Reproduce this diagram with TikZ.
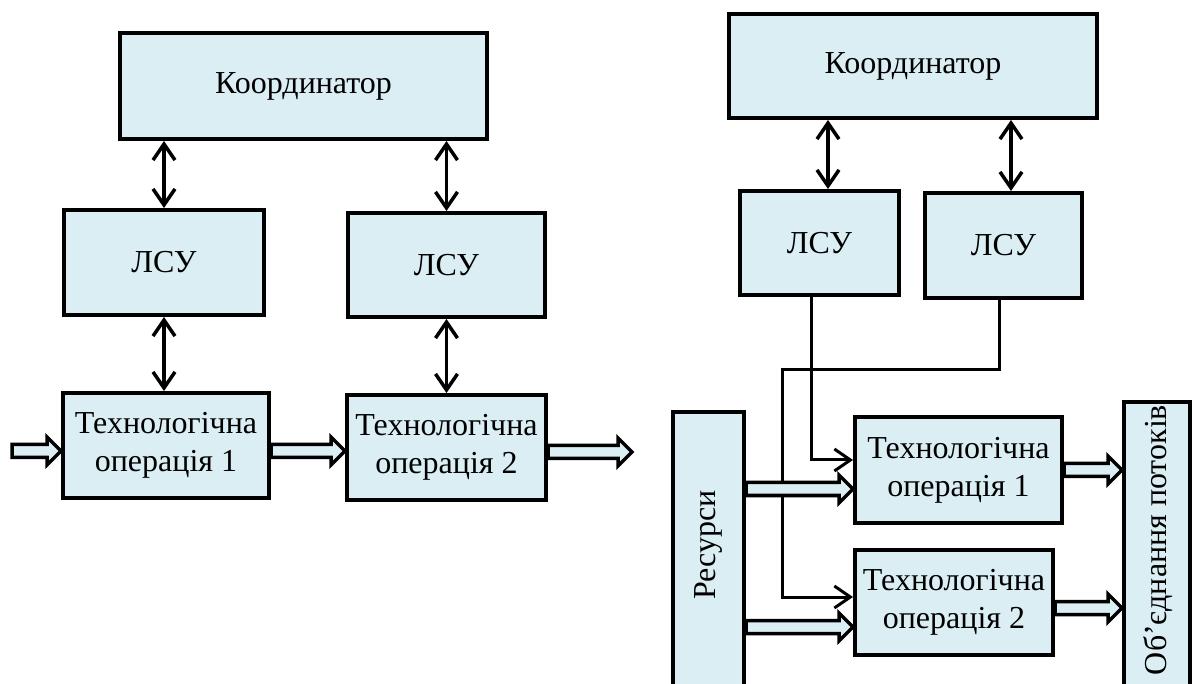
\documentclass[tikz,border=0pt]{standalone}
\usepackage{fontspec}
\setmainfont{Liberation Serif}
\usetikzlibrary{arrows.meta,calc}
\definecolor{boxfill}{HTML}{DAEEF3}
\begin{document}
\begin{tikzpicture}[x=1pt,y=-1pt,
  box/.style={draw=black, line width=4pt, fill=boxfill, inner sep=0pt, align=center,
    font=\fontsize{32}{38}\selectfont},
  lbl/.style={inner sep=0pt, font=\fontsize{32}{38}\selectfont},
  tip/.tip={Straight Barb[length=16pt,width=22pt]},
  link/.style={line width=3.5pt, tip-tip},
  wire/.style={line width=3pt, -tip},
  fatarrow/.style={draw=black, line width=3.5pt, fill=boxfill, line join=miter,
    to path={let \p1=(\tikztostart), \p2=(\tikztotarget) in
      (\x1,\y1+6.5pt) -- (\x2-14pt,\y1+6.5pt) -- (\x2-14pt,\y1+14pt) -- (\x2,\y1)
      -- (\x2-14pt,\y1-14pt) -- (\x2-14pt,\y1-6.5pt) -- (\x1,\y1-6.5pt) -- cycle}}
]
\useasboundingbox (0,0) rectangle (1192,684);

% ---------------- left diagram ----------------
\node[box, minimum width=367pt, minimum height=106pt] (koordA) at (303.5,86) {Координатор};
\node[box, minimum width=200pt, minimum height=105pt] (lsuA1) at (164,262.5) {ЛСУ};
\node[box, minimum width=197pt, minimum height=104pt] (lsuA2) at (446.5,265) {ЛСУ};
\node[box, minimum width=206pt, minimum height=105pt] (opA1) at (166,445.5) {Технологічна\\операція 1};
\node[box, minimum width=199pt, minimum height=105pt] (opA2) at (446.5,447.5) {Технологічна\\операція 2};

\draw[link] (lsuA1.north |- koordA.south) -- (lsuA1.north);
\draw[link] (lsuA2.north |- koordA.south) -- (lsuA2.north);
\draw[link] (lsuA1.south) -- (lsuA1.south |- opA1.north);
\draw[link] (lsuA2.south) -- (lsuA2.south |- opA2.north);

\coordinate (inA) at (12,451);
\coordinate (outA) at (632,452);
\draw[fatarrow] (inA) to ([yshift=-5.5pt]opA1.west);
\draw[fatarrow] ([yshift=-5.5pt]opA1.east) to ([yshift=-5.5pt]opA2.west);
\draw[fatarrow] ([yshift=-4.5pt]opA2.east) to (outA);

% ---------------- right diagram ----------------
\node[box, minimum width=368pt, minimum height=104pt] (koordB) at (913,66) {Координатор};
\node[box, minimum width=159pt, minimum height=104pt] (lsuB1) at (819.5,243) {ЛСУ};
\node[box, minimum width=157pt, minimum height=105pt] (lsuB2) at (1003.5,245.5) {ЛСУ};
\node[box, minimum width=207pt, minimum height=106pt] (opB1) at (958.5,470) {Технологічна\\операція 1};
\node[box, minimum width=198pt, minimum height=105pt] (opB2) at (954,602.5) {Технологічна\\операція 2};
\node[box, minimum width=71pt, minimum height=290pt] (res) at (708.5,557) {};
\node[lbl, rotate=90] (restext) at (708.5,545) {Ресурси};
\node[box, minimum width=66pt, minimum height=300pt] (merge) at (1157,552) {};
\node[lbl, rotate=90] (mergetext) at (1158,540) {Об’єднання потоків};

\draw[link] ([xshift=8.5pt]lsuB1.north |- koordB.south) -- ([xshift=8.5pt]lsuB1.north);
\draw[link] ([xshift=7.5pt]lsuB2.north |- koordB.south) -- ([xshift=7.5pt]lsuB2.north);

\coordinate (bend) at (782,370);
\draw[wire] ([xshift=-8.5pt]lsuB1.south) |- ([yshift=10pt]opB1.west);
\draw[wire] ([xshift=-4.5pt]lsuB2.south) |- (bend) |- ([yshift=5.5pt]opB2.west);

\draw[fatarrow] ([yshift=-19pt]res.east |- opB1.west) to ([yshift=-19pt]opB1.west);
\draw[fatarrow] ([yshift=-24.5pt]res.east |- opB2.west) to ([yshift=-24.5pt]opB2.west);
\draw[fatarrow] (opB1.east) to (merge.west |- opB1.east);
\draw[fatarrow] ([yshift=-5.5pt]opB2.east) to ([yshift=-5.5pt]merge.west |- opB2.east);
\end{tikzpicture}
\end{document}
